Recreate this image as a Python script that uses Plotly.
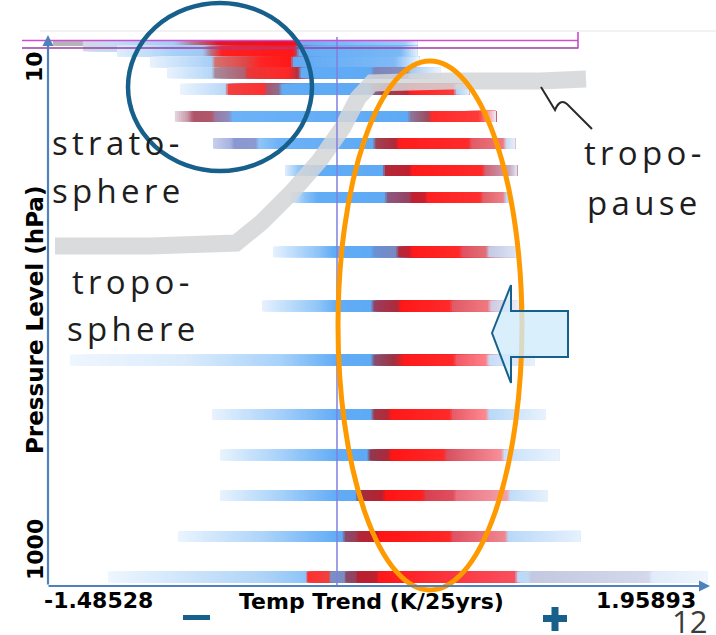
import numpy as np
import plotly.graph_objects as go

# Pressure levels (hPa) of the trend bars
levels = [10, 20, 30, 50, 70, 100, 150, 200, 250, 300, 400, 500, 600, 700, 775, 850, 925, 1000]

# Colour stops along each bar: (temperature trend in K/25yrs, colour)
stops_10 = [(-1.482, '#b4b4b8'), (-1.33, '#b4b4b8'), (-1.32, '#a9bfd6'), (-0.85, '#a9c3e0'),
            (-0.84, '#8c1a30'), (-0.25, '#7a0f28'), (-0.24, '#7d9cc4'), (0.42, '#c6d8ec')]
stops_20 = [(-1.326, '#d0d8e4'), (-1.15, '#c0daf4'), (-0.85, '#a4ccf4'), (-0.75, '#b07888'),
            (-0.62, '#e01828'), (-0.21, '#f01020'), (-0.20, '#6aaef4'), (0.35, '#9ccaf6'),
            (0.42, '#e8f2fc')]
stops_30 = [(-1.148, '#e0eefc'), (-0.85, '#a8d0f8'), (-0.70, '#a0c8f4'), (-0.66, '#b07888'),
            (-0.60, '#ff2020'), (-0.23, '#ff1818'), (-0.21, '#a05068'), (-0.20, '#62acf6'),
            (0.33, '#78b8f6'), (0.42, '#e6f1fd')]
stops_50 = [(-0.976, '#e8f2fd'), (-0.70, '#b0d4f8'), (-0.65, '#a6cef6'), (-0.64, '#d87070'),
            (-0.48, '#e04848'), (-0.40, '#ff2424'), (-0.24, '#ff1818'), (-0.23, '#60aaf5'),
            (0.30, '#7fbaf6'), (0.40, '#d8eafc'), (0.43, '#f4f9fe')]
stops_70 = [(-0.887, '#e8f2fd'), (-0.65, '#b4d6f8'), (-0.64, '#a88a9c'), (-0.48, '#b06070'),
            (-0.47, '#e83838'), (-0.26, '#ff2828'), (-0.20, '#b03040'), (-0.19, '#62acf6'),
            (0.18, '#5eaaf5'), (0.19, '#7d84b8'), (0.37, '#8a90c0'), (0.38, '#a4c8f0'),
            (0.54, '#eef6fe')]
stops_100 = [(-0.819, '#eaf4fe'), (-0.58, '#b8d8f8'), (-0.57, '#f04040'), (-0.38, '#ff3030'),
             (-0.37, '#b05068'), (-0.30, '#8a7090'), (-0.29, '#62acf6'), (0.17, '#5eaaf5'),
             (0.18, '#8070a0'), (0.25, '#a04050'), (0.37, '#c02838'), (0.38, '#ff2020'),
             (0.61, '#ff3a3a'), (0.62, '#a8d0f8'), (0.69, '#e0eefc')]
stops_150 = [(-0.846, '#e6d6e0'), (-0.78, '#c89aa8'), (-0.75, '#b05468'), (-0.65, '#b0586c'),
             (-0.64, '#9a78a0'), (-0.56, '#8a90c0'), (-0.55, '#6cb2f6'), (0.37, '#5eaaf5'),
             (0.38, '#8a7aa0'), (0.48, '#a04858'), (0.49, '#ff2a2a'), (0.74, '#ff3a3a'),
             (0.79, '#f8a0a8'), (0.83, '#e8eef8')]
stops_200 = [(-0.647, '#c8d0ee'), (-0.55, '#a4b0e0'), (-0.54, '#8a98d2'), (-0.42, '#8c9ad0'),
             (-0.41, '#90c6f8'), (-0.30, '#6cb2f6'), (0.19, '#5eaaf5'), (0.20, '#a04454'),
             (0.31, '#b02838'), (0.32, '#ff1c1c'), (0.69, '#ff2a2a'), (0.70, '#e05a66'),
             (0.87, '#f07a80'), (0.88, '#c8daf2'), (0.93, '#e4eefa')]
stops_250 = [(-0.271, '#e0eefc'), (-0.20, '#90c6f8'), (-0.12, '#62acf6'), (0.24, '#5eaaf5'),
             (0.25, '#b02a3a'), (0.38, '#c02030'), (0.39, '#ff1a1a'), (0.76, '#ff2a2a'),
             (0.77, '#d06070'), (0.90, '#c8a8c0'), (0.94, '#e0e8f6')]
stops_300 = [(-0.245, '#e0eefc'), (-0.17, '#8cc4f8'), (-0.10, '#62acf6'), (0.25, '#5eaaf5'),
             (0.26, '#8a5a80'), (0.38, '#984060'), (0.39, '#c02030'), (0.46, '#c82030'),
             (0.47, '#ff2020'), (0.75, '#ff3030'), (0.76, '#e06068'), (0.87, '#f08088'),
             (0.88, '#b8d8f8'), (0.91, '#cfe4fa')]
stops_400 = [(-0.334, '#e6f1fd'), (-0.10, '#8ec4f8'), (-0.02, '#62acf6'), (0.18, '#5eaaf5'),
             (0.19, '#6a90d4'), (0.31, '#7a88c0'), (0.32, '#b02a3a'), (0.38, '#c82030'),
             (0.39, '#ff1a1a'), (0.64, '#ff2a2a'), (0.65, '#e05060'), (0.78, '#e07078'),
             (0.79, '#c4c8e4'), (0.94, '#dce6f6')]
stops_500 = [(-0.391, '#e6f1fd'), (-0.10, '#90c6f8'), (0.0, '#62acf6'), (0.18, '#5eaaf5'),
             (0.19, '#984060'), (0.32, '#b02838'), (0.33, '#ff1818'), (0.59, '#ff2a2a'),
             (0.60, '#e05a68'), (0.79, '#f07a80'), (0.80, '#d0c8e0'), (0.95, '#eaeef8')]
stops_600 = [(-1.394, '#eef6fe'), (-0.80, '#dcecfc'), (-0.30, '#a8d2fa'), (0.0, '#62acf6'),
             (0.18, '#5eaaf5'), (0.19, '#8a5070'), (0.30, '#a03040'), (0.35, '#ff1a1a'),
             (0.61, '#ff2a2a'), (0.62, '#f05a66'), (0.78, '#ff8088'), (0.79, '#c8dcf6'),
             (1.03, '#e8f0fc')]
stops_700 = [(-0.652, '#e8f3fd'), (-0.30, '#a6d0fa'), (0.0, '#62acf6'), (0.18, '#5eaaf5'),
             (0.19, '#a03848'), (0.27, '#b82838'), (0.28, '#ff1818'), (0.59, '#ff2a2a'),
             (0.60, '#e85a66'), (0.78, '#ff8a90'), (0.79, '#b8d8f8'), (1.09, '#e8f2fc')]
stops_775 = [(-0.611, '#e8f3fd'), (-0.30, '#a8d2fa'), (0.0, '#62acf6'), (0.16, '#5eaaf5'),
             (0.17, '#903a50'), (0.27, '#b02838'), (0.28, '#ff1414'), (0.56, '#ff2a2a'),
             (0.57, '#d85060'), (0.86, '#f8909a'), (0.87, '#c8e0fa'), (1.16, '#eaf3fd')]
stops_850 = [(-0.611, '#e8f3fd'), (-0.30, '#a8d2fa'), (0.0, '#62acf6'), (0.10, '#5eaaf5'),
             (0.11, '#a03040'), (0.24, '#b82030'), (0.25, '#ff1414'), (0.45, '#ff2020'),
             (0.46, '#d84050'), (0.61, '#e05060'), (0.62, '#e87080'), (0.89, '#f4a0a8'),
             (0.90, '#c0dcf8'), (1.10, '#e6f1fd')]
stops_925 = [(-0.830, '#eaf4fe'), (-0.40, '#b0d6fa'), (0.0, '#62acf6'), (0.03, '#5eaaf5'),
             (0.04, '#8a4a6a'), (0.10, '#9a4058'), (0.11, '#b02838'), (0.21, '#c02030'),
             (0.22, '#ff1414'), (0.59, '#ff2828'), (0.60, '#e05060'), (0.88, '#f08890'),
             (0.89, '#b8d8f8'), (1.27, '#e6f1fd')]
stops_1000 = [(-1.195, '#eef6fe'), (-0.40, '#b0d4f8'), (-0.16, '#8cc4f8'), (-0.155, '#ff3030'),
              (-0.04, '#f04040'), (-0.035, '#7a90c8'), (0.04, '#7a8cc0'), (0.045, '#8a4a68'),
              (0.10, '#984060'), (0.105, '#b82030'), (0.21, '#c02030'), (0.215, '#ff1818'),
              (0.93, '#f85060'), (0.94, '#b8daf8'), (1.00, '#c0d8f4'), (1.01, '#c4c8e0'),
              (1.63, '#d4d8ec'), (1.64, '#e0ecfa'), (1.95, '#f0f6fe')]

bar_stops = [stops_10, stops_20, stops_30, stops_50, stops_70, stops_100, stops_150,
             stops_200, stops_250, stops_300, stops_400, stops_500, stops_600, stops_700,
             stops_775, stops_850, stops_925, stops_1000]

x_min_label, x_max_label = "-1.48528", "1.95893"
y_top_label, y_bottom_label = "10", "1000"


def to_rgb(h):
    h = h.lstrip('#')
    return np.array([int(h[i:i + 2], 16) for i in (0, 2, 4)], dtype=float)


def mix(c0, c1, t):
    r, g, b = (to_rgb(c0) * (1 - t) + to_rgb(c1) * t).round().astype(int)
    return f'rgb({r},{g},{b})'


# Each bar is split into short slices whose colour follows the stops; every slice
# runs to the bar's end so the later (right-hand) slices overlay without seams.
seg_y, seg_base, seg_len, seg_col = [], [], [], []
for lev, stops in zip(levels, bar_stops):
    end = stops[-1][0]
    for (x0, c0), (x1, c1) in zip(stops[:-1], stops[1:]):
        if x1 <= x0:
            continue
        n = max(1, int(np.ceil((x1 - x0) / 0.012)))
        for k in range(n):
            xa = x0 + (x1 - x0) * k / n
            seg_y.append(lev)
            seg_base.append(xa)
            seg_len.append(end - xa)
            seg_col.append(mix(c0, c1, (k + 0.5) / n))

fig = go.Figure(go.Bar(
    y=seg_y, x=seg_len, base=seg_base, orientation='h', width=20,
    marker=dict(color=seg_col, line=dict(width=0)),
    cliponaxis=False, hoverinfo='skip', showlegend=False,
))

W, H = 716, 635
PL, PR, PT, PB = 48, 708, 40, 585


def fx(px):
    return (px - PL) / (PR - PL)


def fy(py):
    return (PB - py) / (PB - PT)


def path(points, close=False):
    s = 'M ' + ' L '.join(f'{fx(a):.5f},{fy(b):.5f}' for a, b in points)
    return s + (' Z' if close else '')


AXIS_BLUE = '#4f81bd'
TEAL = '#17608c'

shapes = []
# tropopause brush stroke
shapes.append(dict(type='path', xref='paper', yref='paper', layer='above',
                   path=path([(55, 246), (150, 246), (236, 243), (262, 222), (292, 192),
                              (320, 160), (343, 127), (358, 98), (372, 83), (450, 81),
                              (540, 81), (586, 79)]),
                   line=dict(color='rgba(212,213,215,0.86)', width=17)))
# zero-trend reference line
shapes.append(dict(type='line', xref='x', yref='paper', x0=0, x1=0, y0=0, y1=fy(37),
                   layer='above', line=dict(color='#8080e0', width=1.5)))
# faint top rule and magenta frame
shapes.append(dict(type='line', xref='paper', yref='paper', x0=fx(40), x1=1.02,
                   y0=fy(31), y1=fy(31), layer='above', line=dict(color='#e6e6e6', width=1.2)))
shapes.append(dict(type='line', xref='paper', yref='paper', x0=fx(22), x1=fx(578),
                   y0=fy(40.5), y1=fy(40.5), layer='above', line=dict(color='#d04cd0', width=1.5)))
shapes.append(dict(type='line', xref='paper', yref='paper', x0=fx(22), x1=fx(578),
                   y0=fy(48), y1=fy(48), layer='above', line=dict(color='#9c3ca4', width=1.5)))
shapes.append(dict(type='line', xref='paper', yref='paper', x0=fx(578), x1=fx(578),
                   y0=fy(32), y1=fy(48.5), layer='above', line=dict(color='#c040c8', width=1.5)))
# stratosphere highlight
shapes.append(dict(type='circle', xref='paper', yref='paper', layer='above',
                   x0=fx(128), x1=fx(312), y0=fy(171), y1=fy(3),
                   line=dict(color=TEAL, width=4.5)))
# troposphere warming highlight
shapes.append(dict(type='circle', xref='paper', yref='paper', layer='above',
                   x0=fx(338), x1=fx(522), y0=fy(590), y1=fy(61),
                   line=dict(color='#ff9900', width=5)))
# left-pointing block arrow
shapes.append(dict(type='path', xref='paper', yref='paper', layer='above',
                   path=path([(492, 333), (511, 285), (511, 311), (568, 311), (568, 357),
                              (511, 357), (511, 383)], close=True),
                   fillcolor='rgba(208,234,251,0.78)', line=dict(color=TEAL, width=2)))
# tropopause pointer squiggle
shapes.append(dict(type='path', xref='paper', yref='paper', layer='above',
                   path=(f'M {fx(541):.5f},{fy(87):.5f} L {fx(555):.5f},{fy(110):.5f} '
                         f'Q {fx(560):.5f},{fy(98):.5f} {fx(567):.5f},{fy(104):.5f} '
                         f'L {fx(592):.5f},{fy(129):.5f}'),
                   line=dict(color='#2a2a2a', width=2)))
# minus and plus markers under the axis
shapes.append(dict(type='rect', xref='paper', yref='paper', x0=fx(183), x1=fx(210),
                   y0=fy(620), y1=fy(615), fillcolor=TEAL, line=dict(width=0)))
shapes.append(dict(type='rect', xref='paper', yref='paper', x0=fx(543), x1=fx(567),
                   y0=fy(622), y1=fy(615), fillcolor=TEAL, line=dict(width=0)))
shapes.append(dict(type='rect', xref='paper', yref='paper', x0=fx(551.5), x1=fx(558.5),
                   y0=fy(631), y1=fy(607), fillcolor=TEAL, line=dict(width=0)))

BOLD = 'DejaVu Sans'
LABEL = 'Open Sans'


def note(text, x, y, size, family=LABEL, color='#1e1e1e', xanchor='left', yanchor='middle',
         angle=0, spacing=None):
    if spacing:
        text = f'<span style="letter-spacing:{spacing}px">{text}</span>'
    return dict(text=text, x=fx(x), y=fy(y), xref='paper', yref='paper', showarrow=False,
                xanchor=xanchor, yanchor=yanchor, textangle=angle, borderpad=0,
                font=dict(family=family, size=size, color=color))


annotations = [
    note('strato-', 51, 143, 33, spacing=4.3),
    note('sphere', 51, 190, 33, spacing=4.3),
    note('tropo-', 71, 281, 33, spacing=4.3),
    note('sphere', 66, 328, 33, spacing=4.3),
    note('tropo-', 583, 152, 33, spacing=4.3),
    note('pause', 586, 203, 33, spacing=4.3),
    note('12', 671, 621, 31, color='#3c3c3c'),
    note(f'<b>{x_min_label}</b>', 43, 600, 22, family=BOLD, color='#000'),
    note(f'<b>{x_max_label}</b>', 697, 600, 22, family=BOLD, color='#000', xanchor='right'),
    note('<b>Temp Trend (K/25yrs)</b>', 371, 601, 22, family=BOLD, color='#000',
         xanchor='center'),
    note('<b>Pressure Level (hPa)</b>', 35, 320, 23, family=BOLD, color='#000',
         xanchor='center', angle=-90),
    note(f'<b>{y_top_label}</b>', 35, 67, 22, family=BOLD, color='#000',
         xanchor='center', angle=-90),
    note(f'<b>{y_bottom_label}</b>', 35, 550, 22, family=BOLD, color='#000',
         xanchor='center', angle=-90),
    # axis lines with arrow heads
    dict(text='', x=fx(48), y=fy(35), xref='paper', yref='paper', showarrow=True,
         ax=0, ay=551, axref='pixel', ayref='pixel', arrowhead=2, arrowsize=1,
         arrowwidth=2.2, arrowcolor=AXIS_BLUE, standoff=0, startstandoff=0),
    dict(text='', x=fx(710), y=fy(586), xref='paper', yref='paper', showarrow=True,
         ax=-663, ay=0, axref='pixel', ayref='pixel', arrowhead=2, arrowsize=1,
         arrowwidth=2.2, arrowcolor=AXIS_BLUE, standoff=0, startstandoff=0),
]

fig.update_layout(
    width=W, height=H,
    margin=dict(l=PL, r=W - PR, t=PT, b=H - PB, autoexpand=False),
    paper_bgcolor='white', plot_bgcolor='white',
    barmode='overlay',
    xaxis=dict(range=[-1.508, 1.936], showticklabels=False, showgrid=False,
               zeroline=False, showline=False, ticks=''),
    yaxis=dict(range=[1014.8, 9.2], showticklabels=False, showgrid=False,
               zeroline=False, showline=False, ticks=''),
    shapes=shapes,
    annotations=annotations,
)

fig.write_html("out.html")
